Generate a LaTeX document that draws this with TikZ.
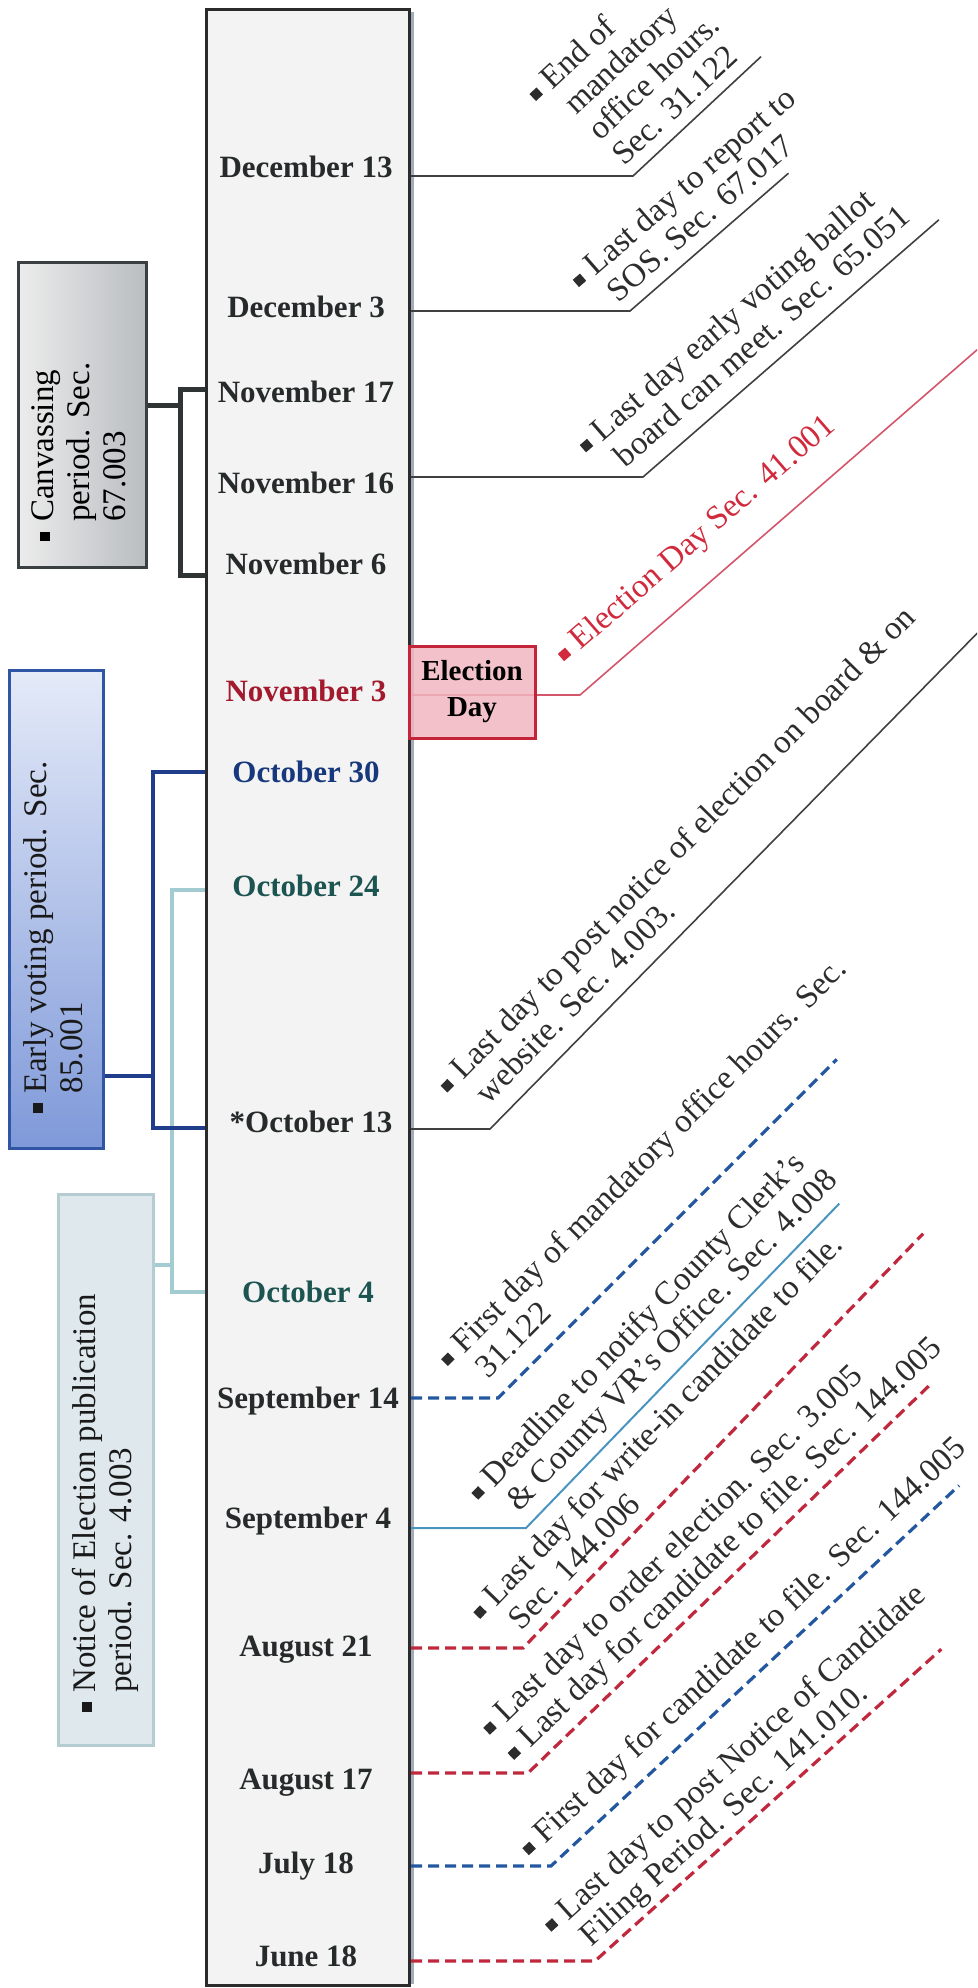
\documentclass[tikz,border=0pt]{standalone}
\usepackage{fontspec}
\setmainfont{Liberation Serif}
\usetikzlibrary{calc}
\definecolor{barfill}{HTML}{F3F3F3}
\definecolor{bardraw}{HTML}{2B2B2B}
\definecolor{barshade}{HTML}{A3ACBA}
\definecolor{datedark}{HTML}{262A2B}
\definecolor{novred}{HTML}{A3192E}
\definecolor{octblue}{HTML}{17387C}
\definecolor{octteal}{HTML}{1B5450}
\definecolor{anntext}{HTML}{2D2D2D}
\definecolor{conngray}{HTML}{404040}
\definecolor{redtext}{HTML}{D02A3C}
\definecolor{redthin}{HTML}{D4566A}
\definecolor{dashblue}{HTML}{2358A0}
\definecolor{dashred}{HTML}{C0283E}
\definecolor{lightblue}{HTML}{4A94C0}
\definecolor{canvdraw}{HTML}{3A3F42}
\definecolor{canvleft}{HTML}{ECECEC}
\definecolor{canvright}{HTML}{B9BDC1}
\definecolor{canvbr}{HTML}{2F3535}
\definecolor{evdraw}{HTML}{2F55A4}
\definecolor{evtop}{HTML}{E4EAF8}
\definecolor{evbot}{HTML}{7F99D9}
\definecolor{evbr}{HTML}{1F3D8A}
\definecolor{ntfill}{HTML}{DFE9ED}
\definecolor{ntdraw}{HTML}{B5CCD3}
\definecolor{ntbr}{HTML}{A3CCD2}
\definecolor{pinkfill}{HTML}{F0B6BF}
\definecolor{pinkdraw}{HTML}{C4243A}
\newcommand{\bsq}{\raisebox{0.1em}{\rule{0.29em}{0.29em}}\kern0.3em}
\begin{document}
\begin{tikzpicture}[x=1pt,y=-1pt,
 datelbl/.style={font=\fontsize{31}{35}\selectfont\bfseries, text=datedark, inner sep=0pt, anchor=base},
 annot/.style={font=\fontsize{33}{35}\selectfont, text=anntext, inner sep=0pt, anchor=south west},
 boxtext/.style={font=\fontsize{33}{36}\selectfont, inner sep=0pt, anchor=center, rotate=90},
 conn/.style={draw=conngray, line width=1.6pt},
 redconn/.style={draw=redthin, line width=1.6pt},
 lbconn/.style={draw=lightblue, line width=2pt},
 reddash/.style={draw=dashred, line width=3.2pt, dash pattern=on 11pt off 6pt},
 bluedash/.style={draw=dashblue, line width=3.2pt, dash pattern=on 11pt off 6pt},
 bracket/.style={line width=4.5pt, line join=miter}
]
\useasboundingbox (0,0) rectangle (977,1988);
\clip (0,0) rectangle (977,1988);

% central bar
\draw[barshade, line width=3pt] (412,12) -- (412,1984);
\node[draw=bardraw, line width=3pt, fill=barfill, minimum width=203pt, minimum height=1976pt, inner sep=0pt, anchor=north west] (bar) at (205,8) {};

% dates
\node[datelbl] (d01) at (306,178) {December 13};
\node[datelbl] (d02) at (306,317) {December 3};
\node[datelbl] (d03) at (306,402) {November 17};
\node[datelbl] (d04) at (306,493) {November 16};
\node[datelbl] (d05) at (306,574) {November 6};
\node[datelbl, text=novred] (d06) at (306,701) {November 3};
\node[datelbl, text=octblue] (d07) at (306,782) {October 30};
\node[datelbl, text=octteal] (d08) at (306,896) {October 24};
\node[datelbl] (d09) at (311,1132) {*October 13};
\node[datelbl, text=octteal] (d10) at (308,1302) {October 4};
\node[datelbl] (d11) at (308,1408) {September 14};
\node[datelbl] (d12) at (308,1528) {September 4};
\node[datelbl] (d13) at (306,1656) {August 21};
\node[datelbl] (d14) at (306,1789) {August 17};
\node[datelbl] (d15) at (306,1873) {July 18};
\node[datelbl] (d16) at (306,1966) {June 18};

% left boxes
\node[draw=canvdraw, line width=2.5pt, left color=canvleft, right color=canvright, minimum width=128pt, minimum height=305pt, inner sep=0pt, anchor=north west] (canv) at (17,261) {};
\node[boxtext, text=black] (canvt) at (82,452) {\begin{tabular}{@{}l@{}l@{}}\bsq&Canvassing\\&period. Sec.\\&67.003\end{tabular}};

\node[draw=evdraw, line width=2.5pt, top color=evtop, bottom color=evbot, minimum width=94pt, minimum height=478pt, inner sep=0pt, anchor=north west] (ev) at (8,669) {};
\node[boxtext, text=black!90] (evt) at (57,937) {\begin{tabular}{@{}l@{}l@{}}\bsq&Early voting period. Sec.\\&85.001\end{tabular}};

\node[draw=ntdraw, line width=2.5pt, fill=ntfill, minimum width=95pt, minimum height=551pt, inner sep=0pt, anchor=north west] (nt) at (57,1193) {};
\node[boxtext, text=black!90] (ntt) at (106,1503) {\begin{tabular}{@{}l@{}l@{}}\bsq&Notice of Election publication\\&period. Sec. 4.003\end{tabular}};

% brackets
\coordinate (cb1) at (180,389); \coordinate (cb2) at (180,575); \coordinate (cbm) at (180,405);
\draw[bracket, draw=canvbr, line width=5pt] (bar.west |- cb1) -- (cb1) -- (cb2) -- (bar.west |- cb2);
\draw[bracket, draw=canvbr, line width=5pt] (canv.east |- cbm) -- (cbm);
\coordinate (tb1) at (172,890); \coordinate (tb2) at (172,1292); \coordinate (tbm) at (172,1265);
\draw[bracket, draw=ntbr] (bar.west |- tb1) -- (tb1) -- (tb2) -- (bar.west |- tb2);
\draw[bracket, draw=ntbr] (nt.east |- tbm) -- (tbm);
\coordinate (bb1) at (153,772); \coordinate (bb2) at (153,1128); \coordinate (bbm) at (153,1076);
\draw[bracket, draw=evbr] (bar.west |- bb1) -- (bb1) -- (bb2) -- (bar.west |- bb2);
\draw[bracket, draw=evbr] (ev.east |- bbm) -- (bbm);

% A1 Dec 13
\coordinate (k1) at (633,176);
\coordinate (e1) at ($(k1)+(-43:175)$);
\draw[conn] (bar.east |- k1) -- (k1) -- (e1);
\node[annot, rotate=43] (t1) at ($(k1)+(-133:2)+(-43:-20)$) {\begin{tabular}{@{}l@{}l@{}}\bsq&End of\\&mandatory\\&office hours.\\&Sec. 31.122\end{tabular}};

% A2 Dec 3
\coordinate (k2) at (630,311);
\coordinate (e2) at ($(k2)+(-41:210)$);
\draw[conn] (bar.east |- k2) -- (k2) -- (e2);
\node[annot, rotate=41] (t2) at ($(k2)+(-131:2.5)+(-41:-23)$) {\begin{tabular}{@{}l@{}l@{}}\bsq&Last day to report to\\&SOS. Sec. 67.017\end{tabular}};

% A3 Nov 16
\coordinate (k3) at (643,477);
\coordinate (e3) at ($(k3)+(-41:392)$);
\draw[conn] (bar.east |- k3) -- (k3) -- (e3);
\node[annot, rotate=41] (t3) at ($(k3)+(-131:7)+(-41:-27)$) {\begin{tabular}{@{}l@{}l@{}}\bsq&Last day early voting ballot\\&board can meet. Sec. 65.051\end{tabular}};

% A4 Election day
\coordinate (k4) at (580,695);
\coordinate (e4) at ($(k4)+(-41:560)$);
\draw[redconn] (bar.east |- k4) -- (k4) -- (e4);
\node[draw=pinkdraw, line width=3pt, fill=pinkfill, fill opacity=0.85, text opacity=1, minimum width=126pt, minimum height=92pt, inner sep=0pt, align=center, font=\fontsize{29}{36}\selectfont\bfseries, text=black] (eday) at (472,692) {Election\\Day};
\node[annot, rotate=41, text=redtext] (t4) at ($(k4)+(-131:22)+(-41:10)$) {\begin{tabular}{@{}l@{}l@{}}\bsq&Election Day Sec. 41.001\end{tabular}};

% A5 Oct 13
\coordinate (k5) at (490,1129);
\coordinate (e5) at ($(k5)+(-45.5:720)$);
\draw[conn] (bar.east |- k5) -- (k5) -- (e5);
\node[annot, rotate=45.5] (t5) at ($(k5)+(-135.5:7)+(-45.5:-4)$) {\begin{tabular}{@{}l@{}l@{}}\bsq&Last day to post notice of election on board \& on\\&website. Sec. 4.003.\end{tabular}};

% A6 Sep 14
\coordinate (k6) at (498,1398);
\coordinate (e6) at ($(k6)+(-45:479)$);
\draw[bluedash] (bar.east |- k6) -- (k6) -- (e6);
\node[annot, rotate=45] (t6) at ($(k6)+(-135:9)+(-45:-13)$) {\begin{tabular}{@{}l@{}l@{}}\bsq&First day of mandatory office hours. Sec.\\&31.122\end{tabular}};

% A7 Sep 4
\coordinate (k7) at (526,1528);
\coordinate (e7) at ($(k7)+(-46:451)$);
\draw[lbconn] (bar.east |- k7) -- (k7) -- (e7);
\node[annot, rotate=46] (t7) at ($(k7)+(-136:5)+(-46:-13)$) {\begin{tabular}{@{}l@{}l@{}}\bsq&Deadline to notify County Clerk’s\\&\& County VR’s Office. Sec. 4.008\end{tabular}};

% A8 Aug 21
\coordinate (k8) at (523,1648);
\coordinate (e8) at ($(k8)+(-46:576)$);
\draw[reddash] (bar.east |- k8) -- (k8) -- (e8);
\node[annot, rotate=46] (t8) at ($(k8)+(-136:2)+(-46:-9)$) {\begin{tabular}{@{}l@{}l@{}}\bsq&Last day for write-in candidate to file.\\&Sec. 144.006\end{tabular}};

% A9 Aug 17
\coordinate (k9) at (528,1773);
\coordinate (e9) at ($(k9)+(-44:558)$);
\draw[reddash] (bar.east |- k9) -- (k9) -- (e9);
\node[annot, rotate=44] (t9) at ($(k9)+(-134:5)+(-44:-1)$) {\begin{tabular}{@{}l@{}l@{}}\bsq&Last day to order election. Sec. 3.005\\\bsq&Last day for candidate to file. Sec. 144.005\end{tabular}};

% A10 July 18
\coordinate (k10) at (551,1866);
\coordinate (e10) at ($(k10)+(-43:558)$);
\draw[bluedash] (bar.east |- k10) -- (k10) -- (e10);
\node[annot, rotate=43] (t10) at ($(k10)+(-133:9)+(-43:-9)$) {\begin{tabular}{@{}l@{}l@{}}\bsq&First day for candidate to file. Sec. 144.005\end{tabular}};

% A11 June 18
\coordinate (k11) at (595,1961);
\coordinate (e11) at ($(k11)+(-42:466)$);
\draw[reddash] (bar.east |- k11) -- (k11) -- (e11);
\node[annot, rotate=42] (t11) at ($(k11)+(-132:2)+(-42:-13)$) {\begin{tabular}{@{}l@{}l@{}}\bsq&Last day to post Notice of Candidate\\&Filing Period. Sec. 141.010.\end{tabular}};
\end{tikzpicture}
\end{document}
